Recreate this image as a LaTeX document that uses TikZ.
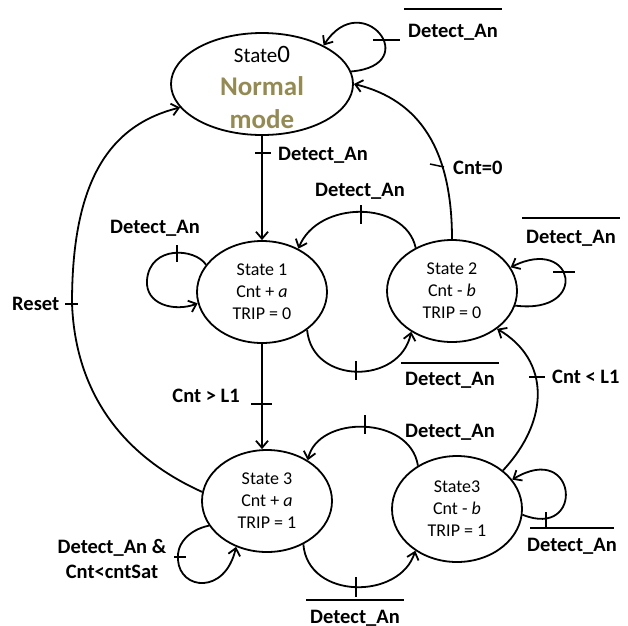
\documentclass[tikz,border=0pt]{standalone}
\usepackage{fontspec}
\setmainfont{Carlito}
\usetikzlibrary{shapes.geometric,arrows.meta}
\definecolor{modecol}{HTML}{948A54}
\newcommand\olbar[2]{\vbox{\hrule height 1.3pt\kern#1\hbox{\kern4pt#2\kern4pt}}}
\begin{document}
\begin{tikzpicture}[x=1pt,y=-1pt,
  state/.style={ellipse,draw,line width=1.8pt,minimum width=130pt,minimum height=102pt,inner sep=0pt,align=center,font=\fontsize{18}{22}\selectfont},
  edge/.style={line width=1.8pt,-{Straight Barb[length=7pt,width=12pt]}},
  tick/.style={line width=1.5pt},
  lbl/.style={font=\fontsize{20.5}{24}\selectfont\bfseries,inner sep=0pt},
  ttl/.style={anchor=base,inner sep=0pt}]
\useasboundingbox (0,0) rectangle (628,625);
\clip (0,0) rectangle (628,625);
% states
\node[state,minimum width=182pt] (s0) at (262,84) {};
\node[ttl,font=\fontsize{21}{24}\selectfont] (t0a) at (262,62) {State{\fontsize{25}{28}\selectfont 0}};
\node[ttl,font=\fontsize{27}{30}\selectfont\bfseries,text=modecol] (t0b) at (262,95) {Normal};
\node[ttl,font=\fontsize{27}{30}\selectfont\bfseries,text=modecol] (t0c) at (262,128) {mode};
\node[state] (s1) at (262,292) {State 1\\Cnt + \textit{a}\\TRIP = 0};
\node[state] (s2) at (452,291) {State 2\\Cnt - \textit{b}\\TRIP = 0};
\node[state] (s3a) at (267,501) {State 3\\Cnt + \textit{a}\\TRIP = 1};
\node[state,minimum height=106pt] (s3b) at (457,509) {State3\\Cnt - \textit{b}\\TRIP = 1};
% connectors
\draw[edge] (s0.8) .. controls (425,65) and (362,-14) .. (s0.32);
\draw[edge] (s0.south) -- (s1.north);
\draw[edge] (s2.north) .. controls (452,150) and (420,100) .. (s0.east);
\draw[edge] (s2.130) .. controls (405,200) and (318,200) .. (s1.50);
\draw[edge] (s1.320) .. controls (312,385) and (400,385) .. (s2.225);
\draw[edge] (s1.154) .. controls (195,248) and (150,245) .. (147,280) .. controls (145,305) and (175,312) .. (s1.190);
\draw[edge] (s3a.172) .. controls (120,455) and (75,390) .. (72,303) .. controls (72,180) and (110,125) .. (s0.196);
\draw[edge] (s2.347) .. controls (590,315) and (575,235) .. (s2.22);
\draw[edge] (s3b.40) .. controls (550,420) and (550,360) .. (s2.320);
\draw[edge] (s1.south) -- (s1.south |- s3a.north);
\draw[edge] (s3b.132) .. controls (410,415) and (318,415) .. (s3a.45);
\draw[edge] (s3a.310) .. controls (308,600) and (400,600) .. (s3b.225);
\draw[edge] (s3b.355) .. controls (585,540) and (578,440) .. (s3b.28);
\draw[edge] (s3a.203) .. controls (188,530) and (176,545) .. (178,560) .. controls (180,590) and (225,595) .. (s3a.236);
% ticks
\draw[tick] (373,40) -- (400,40);
\draw[tick] (255,153) -- (271,153);
\draw[tick] (430,164) -- (444,167);
\draw[tick] (361,205) -- (361,224);
\draw[tick] (177,245) -- (177,262);
\draw[tick] (356,361) -- (356,380);
\draw[tick] (65,304) -- (78,304);
\draw[tick] (553,272) -- (575,272);
\draw[tick] (529,377) -- (545,377);
\draw[tick] (251,404) -- (272,404);
\draw[tick] (365,415) -- (365,434);
\draw[tick] (356,577) -- (356,597);
\draw[tick] (546,512) -- (546,528);
\draw[tick] (174,557) -- (186,557);
% labels
\node[lbl,anchor=base west] (l1) at (404,37) {\olbar{14pt}{Detect\_An}};
\node[lbl,anchor=base west] (l2) at (278,160) {Detect\_An};
\node[lbl,anchor=base west] (l3) at (453,174) {Cnt=0};
\node[lbl,anchor=base west] (l4) at (315,196) {Detect\_An};
\node[lbl,anchor=base west] (l5) at (110,233) {Detect\_An};
\node[lbl,anchor=base west] (l6) at (401,385) {\olbar{8pt}{Detect\_An}};
\node[lbl,anchor=base west] (l7) at (522,243) {\olbar{11pt}{Detect\_An}};
\node[lbl,anchor=base west] (l8) at (12,310) {Reset};
\node[lbl,anchor=base west] (l9) at (552,383) {Cnt < L1};
\node[lbl,anchor=base east] (l10) at (240,402) {Cnt > L1};
\node[lbl,anchor=base west] (l11) at (405,437) {Detect\_An};
\node[lbl,anchor=base] (l12a) at (112,553) {Detect\_An \&};
\node[lbl,anchor=base] (l12b) at (112,578) {Cnt<cntSat};
\node[lbl,anchor=base west] (l13) at (306,623) {\olbar{9pt}{Detect\_An}};
\node[lbl,anchor=base west] (l14) at (530,551) {\vbox{\hrule height 2.2pt\kern 9pt\hbox{\kern-3pt Detect\_An\kern-3pt}}};
\end{tikzpicture}
\end{document}
